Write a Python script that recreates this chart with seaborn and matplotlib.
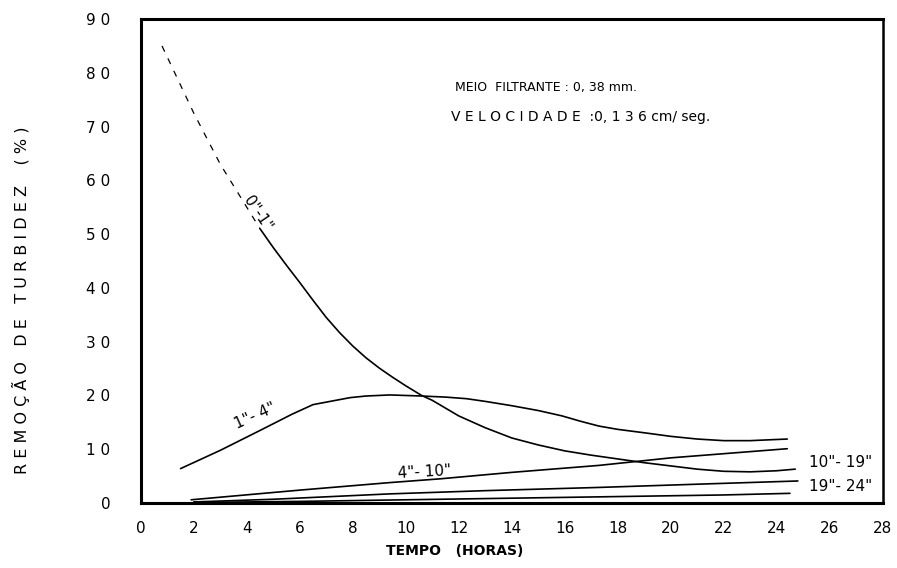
import pandas as pd
import matplotlib
matplotlib.use('Agg')
import matplotlib.pyplot as plt
import seaborn as sns

# values (tempo in hours, remocao in %)
x_0_1 = [0.8, 2, 3, 4, 4.5, 5, 5.5, 6, 6.5, 7, 7.5, 8, 8.5, 9, 9.5, 10, 10.6, 11, 12, 13, 14,
         15, 16, 17, 18, 19, 20, 21, 22, 23, 24, 24.7]
y_0_1 = [85, 72.5, 63, 55, 51, 47.5, 44.2, 41, 37.7, 34.5, 31.7, 29.2, 27, 25.1, 23.4, 21.8, 20, 19.1,
         16.2, 14, 12.1, 10.8, 9.7, 8.9, 8.2, 7.5, 6.9, 6.3, 5.9, 5.8, 6.0, 6.3]

x_1_4 = [1.5, 3, 4.5, 5.7, 6.5, 7.9, 8.5, 9.4, 10.6, 11.5, 12.3, 13, 14, 15, 15.9, 16.6, 17.3,
         18, 19.1, 20, 21, 22, 23, 24.4]
y_1_4 = [6.4, 9.8, 13.5, 16.5, 18.3, 19.6, 19.9, 20.1, 19.9, 19.7, 19.4, 18.9, 18.1, 17.2,
         16.2, 15.2, 14.3, 13.7, 13.0, 12.4, 11.9, 11.6, 11.6, 11.9]

x_4_10 = [1.9, 6, 9.4, 11.3, 14, 17.3, 20, 24.4]
y_4_10 = [0.6, 2.4, 3.8, 4.5, 5.7, 7.0, 8.4, 10.1]

x_10_19 = [2, 5, 9.4, 13, 17.3, 21, 24.8]
y_10_19 = [0.2, 0.7, 1.7, 2.3, 2.9, 3.5, 4.1]

x_19_24 = [2, 6, 10, 14, 18, 22, 24.5]
y_19_24 = [0.1, 0.3, 0.6, 0.9, 1.2, 1.5, 1.8]

x_ticks = list(range(0, 29, 2))
y_ticks = list(range(0, 91, 10))
y_tick_labels = ['0', '1 0', '2 0', '3 0', '4 0', '5 0', '6 0', '7 0', '8 0', '9 0']

sns.set_style('white')
plt.rcParams['font.family'] = ['DejaVu Sans']
plt.rcParams['text.color'] = 'black'
plt.rcParams['axes.labelcolor'] = 'black'
plt.rcParams['xtick.color'] = 'black'
plt.rcParams['ytick.color'] = 'black'

fig = plt.figure(figsize=(8.97, 5.68), dpi=100)
ax = fig.add_axes([0.157, 0.1144, 0.827, 0.852])

# the upper part of the 0"-1" curve is faded in the original print
df01 = pd.DataFrame({'x': x_0_1, 'y': y_0_1})
faded = df01[df01['x'] <= 4.5]
solid = df01[df01['x'] >= 4.5]
sns.lineplot(data=faded, x='x', y='y', ax=ax, color='black', lw=0.9,
             linestyle=(0, (5, 6)), estimator=None)
sns.lineplot(data=solid, x='x', y='y', ax=ax, color='black', lw=1.2, estimator=None)

for xs, ys in [(x_1_4, y_1_4), (x_4_10, y_4_10), (x_10_19, y_10_19), (x_19_24, y_19_24)]:
    sns.lineplot(x=xs, y=ys, ax=ax, color='black', lw=1.2, estimator=None)

ax.set_xlim(0, 28)
ax.set_ylim(0, 90)
ax.set_xticks(x_ticks)
ax.set_xticklabels([str(t) for t in x_ticks], fontsize=11)
ax.set_yticks(y_ticks)
ax.set_yticklabels(y_tick_labels, fontsize=11)
ax.tick_params(axis='x', direction='out', length=7, width=1.2, pad=6)
ax.tick_params(axis='y', direction='out', length=8, width=1.2, pad=14)

for side in ['left', 'bottom', 'top']:
    ax.spines[side].set_linewidth(2.2)
ax.spines['right'].set_linewidth(1.8)
for s in ax.spines.values():
    s.set_color('black')

ax.set_xlabel('TEMPO   (HORAS)', fontsize=10, fontweight='bold')
ax.xaxis.set_label_coords(0.423, -0.085)
ax.set_ylabel('R E M O Ç Ã O   D E   T U R B I D E Z    ( % )', fontsize=11.5)
ax.yaxis.set_label_coords(-0.15, 0.42)

# curve labels
ax.text(4.4, 53.8, '0"-1"', fontsize=11, rotation=-56, ha='center', va='center')
ax.text(4.3, 16.2, '1"- 4"', fontsize=11, rotation=24, ha='center', va='center')
ax.text(10.7, 5.8, '4"- 10"', fontsize=11, rotation=3, ha='center', va='center')
ax.text(26.4, 7.6, '10"- 19"', fontsize=11, ha='center', va='center')
ax.text(26.4, 3.0, '19"- 24"', fontsize=11, ha='center', va='center')

ax.text(11.85, 77.3, 'MEIO  FILTRANTE : 0, 38 mm.', fontsize=9, ha='left', va='center')
ax.text(11.7, 71.8, 'V E L O C I D A D E  :0, 1 3 6 cm/ seg.', fontsize=10, ha='left', va='center')

plt.savefig('out.png', dpi=100)
